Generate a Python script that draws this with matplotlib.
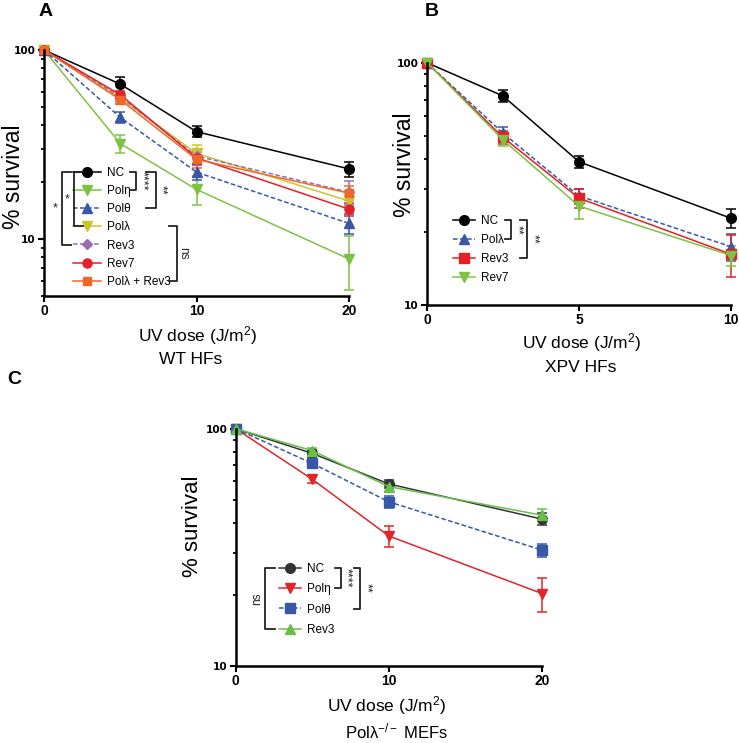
import matplotlib
matplotlib.use("Agg")
import matplotlib.pyplot as plt
from matplotlib.lines import Line2D
from matplotlib.ticker import LogLocator, NullFormatter

plt.rcParams['font.family'] = ['Liberation Sans', 'DejaVu Sans']
plt.rcParams['mathtext.fontset'] = 'custom'
plt.rcParams['mathtext.rm'] = 'Liberation Sans'
plt.rcParams['mathtext.it'] = 'Liberation Sans:italic'
plt.rcParams['mathtext.bf'] = 'Liberation Sans:bold'

# ---- data ----
# panel A: WT HFs
dose_a = [0, 5, 10, 20]
a_names = ['NC', 'Pol\u03b7', 'Pol\u03b8', 'Pol\u03bb', 'Rev3', 'Rev7', 'Pol\u03bb + Rev3']
a_nc = [100, 66, 37, 23.5]
a_poleta = [100, 32, 18.3, 7.85]
a_poltheta = [100, 44, 22.6, 12.1]
a_pollambda = [100, 55.7, 28.4, 15.9]
a_rev3 = [100, 56.5, 27.5, 17.7]
a_rev7 = [100, 58, 26.9, 14.4]
a_lam_rev3 = [100, 54.6, 26.4, 17.5]
a_nc_err = [0, 6, 2.5, 2.2]
a_poleta_err = [0, 3.5, 3.2, 2.5]
a_poltheta_err = [0, 3, 2, 1.5]
a_pollambda_err = [0, 4, 3.2, 1.2]
a_rev3_err = [0, 3, 2.5, 2.6]
a_rev7_err = [0, 3, 2, 1.2]
a_lam_rev3_err = [0, 3, 2.5, 1.5]

# panel B: XPV HFs
dose_b = [0, 2.5, 5, 10]
b_names = ['NC', 'Pol\u03bb', 'Rev3', 'Rev7']
b_nc = [100, 72.9, 39, 22.8]
b_pollambda = [100, 51.2, 28.2, 17.4]
b_rev3 = [100, 49.2, 27.6, 16.2]
b_rev7 = [100, 48, 25.6, 16]
b_nc_err = [0, 4, 2.3, 2]
b_pollambda_err = [0, 3, 2, 2.2]
b_rev3_err = [0, 3, 2.5, 3.2]
b_rev7_err = [0, 2.5, 3, 1.5]

# panel C: Pol lambda -/- MEFs
dose_c = [0, 5, 10, 20]
c_names = ['NC', 'Pol\u03b7', 'Pol\u03b8', 'Rev3']
c_nc = [100, 78.7, 58.5, 41.6]
c_poleta = [100, 61.2, 35.3, 20.2]
c_poltheta = [100, 71.4, 49.2, 30.8]
c_rev3 = [100, 80.8, 57, 43.2]
c_nc_err = [0, 3, 2.5, 2.5]
c_poleta_err = [0, 2, 3.5, 3.3]
c_poltheta_err = [0, 2.5, 3, 2]
c_rev3_err = [0, 2.5, 2.5, 2.5]

W, H = 739, 743
fig = plt.figure(figsize=(W / 100, H / 100), dpi=100)

DASH = (0, (3, 1.6))
INK = '#222222'


def add_ax(left, top, right, bottom):
    # pixel box -> figure fraction
    return fig.add_axes([left / W, 1 - bottom / H, (right - left) / W, (bottom - top) / H])


def style_ax(ax, xticks, ylo):
    ax.set_yscale('log')
    ax.set_xlim(0, xticks[-1])
    ax.set_ylim(ylo, 100)
    ax.set_xticks(xticks)
    ax.set_xticklabels([('%g' % t) for t in xticks], fontweight='bold', fontsize=10)
    ax.set_yticks([10, 100])
    ax.set_yticklabels(['10', '100'], fontweight='bold', fontsize=7.6, family='DejaVu Sans')
    ax.yaxis.set_minor_locator(LogLocator(base=10, subs=range(2, 10)))
    ax.yaxis.set_minor_formatter(NullFormatter())
    ax.tick_params(which='major', direction='out', length=4, width=1.5, pad=2)
    ax.tick_params(which='minor', direction='out', length=2.5, width=1.3)
    for s in ['top', 'right']:
        ax.spines[s].set_visible(False)
    for s in ['left', 'bottom']:
        ax.spines[s].set_linewidth(1.8)


def series(ax, x, y, err, color, marker, ls='-', ms=6.5):
    eb = ax.errorbar(x, y, yerr=err, color=color, marker=marker, ms=ms, ls=ls,
                     lw=1.1, elinewidth=1.1, capsize=3.5, capthick=1.1, clip_on=False)
    for art in eb.lines[1] + eb.lines[2]:
        art.set_clip_on(False)
    return eb.lines[0]


def px_text(x, y, s, **kw):
    fig.text(x / W, 1 - y / H, s, ha='center', va='center', **kw)


def px_line(xs, ys, lw=1.3):
    fig.add_artist(Line2D([v / W for v in xs], [1 - v / H for v in ys], color=INK, lw=lw))


def rows_of(leg):
    fig.canvas.draw()
    out = []
    for t in leg.get_texts():
        bb = t.get_window_extent()
        out.append(H - (bb.y0 + bb.y1) / 2 - 1)
    return out


def bracket(rows, i0, i1, x, arm, side, label, lx, rot, fs=9):
    y0, y1 = rows[i0], rows[i1]
    d = -arm if side == 'right' else arm
    px_line([x + d, x, x, x + d], [y0, y0, y1, y1])
    px_text(lx, (y0 + y1) / 2, label, rotation=rot, fontsize=fs, color=INK)


def legend(ax, handles, names, x, y, hl, sp):
    return ax.legend(handles, names, loc='upper left', bbox_to_anchor=(x / W, 1 - y / H),
                     bbox_transform=fig.transFigure, frameon=False, fontsize=8.5,
                     handlelength=hl, handletextpad=0.45, labelspacing=sp, borderpad=0,
                     borderaxespad=0)


# ---------------- Panel A ----------------
axA = add_ax(44, 50, 349, 296)
hA = [
    series(axA, dose_a, a_nc, a_nc_err, 'black', 'o', ms=7),
    series(axA, dose_a, a_poleta, a_poleta_err, '#7dc242', 'v'),
    series(axA, dose_a, a_poltheta, a_poltheta_err, '#3a57a7', '^', ls=DASH),
    series(axA, dose_a, a_pollambda, a_pollambda_err, '#c9c62c', 'v'),
    series(axA, dose_a, a_rev3, a_rev3_err, '#9b6bb5', 'D', ls=DASH, ms=5.5),
    series(axA, dose_a, a_rev7, a_rev7_err, '#e41f26', 'o'),
    series(axA, dose_a, a_lam_rev3, a_lam_rev3_err, '#f0672a', 's', ms=6),
]
style_ax(axA, [0, 10, 20], 5)
axA.set_ylabel('% survival', fontsize=16.5)
axA.yaxis.set_label_coords(-0.062, 0.485)
px_text(198, 336, 'UV dose (J/m$^2$)', fontsize=12.5)
px_text(191, 359, 'WT HFs', fontsize=12.5)
legA = legend(axA, hA, a_names, 73, 167, 2.4, 0.52)
rA = rows_of(legA)
bracket(rA, 0, 4, 62, 9, 'left', '*', 55, 0)
bracket(rA, 0, 3, 73.5, 9, 'left', '*', 67.5, 0)
bracket(rA, 0, 1, 136, 6, 'right', '****', 142, 270)
bracket(rA, 0, 2, 156, 10, 'right', '**', 161, 270)
bracket(rA, 3, 6, 176.5, 8, 'right', 'ns', 183, 270, fs=8.5)
px_text(46, 12, 'A', fontsize=14, fontweight='bold')

# ---------------- Panel B ----------------
axB = add_ax(427, 62.7, 731, 305)
hB = [
    series(axB, dose_b, b_nc, b_nc_err, 'black', 'o', ms=7),
    series(axB, dose_b, b_pollambda, b_pollambda_err, '#3a57a7', '^', ls=DASH),
    series(axB, dose_b, b_rev3, b_rev3_err, '#e41f26', 's'),
    series(axB, dose_b, b_rev7, b_rev7_err, '#7dc242', 'v'),
]
style_ax(axB, [0, 5, 10], 10)
axB.set_ylabel('% survival', fontsize=16.5)
axB.yaxis.set_label_coords(-0.035, 0.578)
px_text(582, 343, 'UV dose (J/m$^2$)', fontsize=12.5)
px_text(581, 368, 'XPV HFs', fontsize=12.5)
legB = legend(axB, hB, b_names, 453, 215, 1.9, 0.6)
rB = rows_of(legB)
bracket(rB, 0, 1, 510.5, 6, 'right', '**', 517, 270)
bracket(rB, 0, 2, 527, 7, 'right', '**', 533, 270)
px_text(432, 12, 'B', fontsize=14, fontweight='bold')

# ---------------- Panel C ----------------
axC = add_ax(235.7, 428.7, 542, 666)
hC = [
    series(axC, dose_c, c_nc, c_nc_err, '#333333', 'o', ms=7),
    series(axC, dose_c, c_poleta, c_poleta_err, '#e0262a', 'v'),
    series(axC, dose_c, c_poltheta, c_poltheta_err, '#3a57a7', 's', ls=DASH),
    series(axC, dose_c, c_rev3, c_rev3_err, '#6abf4b', '^'),
]
style_ax(axC, [0, 10, 20], 10)
axC.set_ylabel('% survival', fontsize=16)
axC.yaxis.set_label_coords(-0.107, 0.59)
px_text(387, 706, 'UV dose (J/m$^2$)', fontsize=12.5)
px_text(396, 731, 'Pol\u03bb$^{-/-}$ MEFs', fontsize=12)
legC = legend(axC, hC, c_names, 279, 563, 1.9, 0.7)
rC = rows_of(legC)
bracket(rC, 0, 3, 265, 10, 'left', 'ns', 257, 90, fs=8.5)
bracket(rC, 0, 1, 340.5, 6, 'right', '****', 346, 270)
bracket(rC, 0, 2, 360, 6, 'right', '**', 366, 270)
px_text(14, 380, 'C', fontsize=14, fontweight='bold')

fig.savefig('out.png', dpi=100)
